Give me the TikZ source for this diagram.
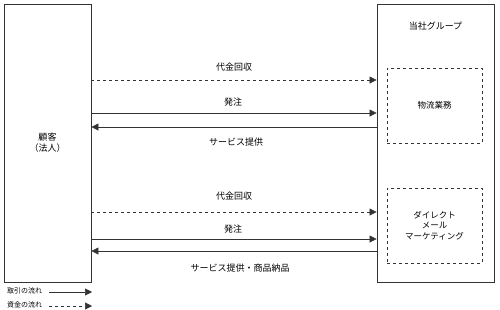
\documentclass[tikz,border=0pt]{standalone}
\usepackage{fontspec}
\setmainfont{Noto Sans CJK JP}
\usepackage{tikz}
\usetikzlibrary{arrows.meta, positioning, calc}
\definecolor{lineGray}{HTML}{333333}

\begin{document}
\begin{tikzpicture}[
  x=1pt, y=-1pt,
  every node/.style={font=\fontsize{9}{11}\selectfont, inner sep=0pt},
  party/.style={draw=lineGray, thick, minimum height=278pt},
  unit/.style={draw=lineGray, dashed, minimum width=95pt, minimum height=75pt,
    align=center, font=\fontsize{8.5}{10.5}\selectfont},
  trade/.style={-{Triangle[length=7pt, width=7pt]}, semithick, lineGray},
  money/.style={trade, dashed},
  small/.style={font=\fontsize{7}{8}\selectfont},
]
  \useasboundingbox (0,0) rectangle (500,309);

  \node[party, minimum width=87pt, align=center] (client) at (47.5,143) {顧客\\（法人）};
  \node[party, minimum width=117pt] (group) at (435.5,143) {};
  \node (grouplbl) at (435.5,26) {当社グループ};

  \node[unit] (logi) at (434.5,105.5) {物流業務};
  \node[unit] (dm) at (434.5,225.5) {ダイレクト\\メール\\マーケティング};

  % upper flows
  \coordinate (y1) at (0,80);
  \coordinate (y2) at (0,113);
  \coordinate (y3) at (0,127);
  \draw[money] (y1 -| client.east) -- (y1 -| group.west);
  \draw[trade] (y2 -| client.east) -- (y2 -| group.west);
  \draw[trade] (y3 -| group.west) -- (y3 -| client.east);
  \node (pay1) at (234,67) {代金回収};
  \node (ord1) at (233,102) {発注};
  \node (srv1) at (236,142) {サービス提供};

  % lower flows
  \coordinate (y4) at (0,212);
  \coordinate (y5) at (0,239);
  \coordinate (y6) at (0,251);
  \draw[money] (y4 -| client.east) -- (y4 -| group.west);
  \draw[trade] (y5 -| client.east) -- (y5 -| group.west);
  \draw[trade] (y6 -| group.west) -- (y6 -| client.east);
  \node (pay2) at (234,196) {代金回収};
  \node (ord2) at (233,229) {発注};
  \node (srv2) at (240,268) {サービス提供・商品納品};

  % legend
  \node[small, anchor=west] (lgtrade) at (7,291) {取引の流れ};
  \node[small, anchor=west] (lgmoney) at (7,305) {資金の流れ};
  \coordinate (lt) at (92,292);
  \coordinate (lm) at (92,306);
  \draw[trade] (lt -| lgtrade.east) ++(7,0) -- (lt);
  \draw[money] (lm -| lgmoney.east) ++(7,0) -- (lm);
\end{tikzpicture}
\end{document}
